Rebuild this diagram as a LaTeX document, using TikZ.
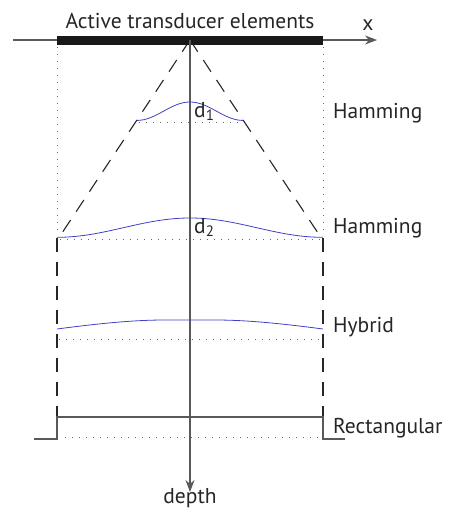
\documentclass[tikz,border=0pt]{standalone}
\usepackage{fontspec}
\setmainfont{PT Sans}
\usetikzlibrary{arrows.meta}
\begin{document}
\begin{tikzpicture}[x=1pt, y=-1pt,
    axisline/.style={black!65, line width=1.1pt},
    beamedge/.style={black!85, line width=1.1pt, dash pattern=on 14pt off 10pt},
    guide/.style={black!60, line width=1pt, dash pattern=on 1pt off 6pt},
    apod/.style={blue!70!black!75, line width=0.8pt},
    lbl/.style={font=\fontsize{21.5}{24}\selectfont, inner sep=0pt, text=black!85}]
    \useasboundingbox (0,0) rectangle (448,512);
    \def\xL{57}
    \def\xR{323}
    \def\xC{190}
    \def\xT{333}

    % Key points
    \coordinate (O) at (\xC,40);
    \coordinate (xstart) at (13,40);
    \coordinate (xend) at (377,40);
    \coordinate (zend) at (\xC,492);
    \coordinate (focL) at (60,236);
    \coordinate (focR) at (320,236);

    % Guides from the aperture ends
    \draw[guide] (\xL,47) -- (\xL,233);
    \draw[guide] (\xR,47) -- (\xR,233);

    % Beam edges
    \draw[beamedge] (O) -- (focL);
    \draw[beamedge] (O) -- (focR);
    \draw[beamedge] (\xL,238) -- (\xL,416);
    \draw[beamedge] (\xR,238) -- (\xR,416);

    % Element bar and x axis
    \draw[axisline, -{Stealth[length=12pt,width=9pt]}] (xstart) -- (xend);
    \fill[black!90] (\xL,35.5) rectangle (\xR,44.5);
    \node[lbl, anchor=base] (title) at (\xC,28) {Active transducer elements};
    \node[lbl, anchor=base] (xlab) at (368,30) {x};

    % Depth axis
    \draw[axisline, -{Stealth[length=12pt,width=9pt]}] (O) -- (zend);
    \node[lbl, anchor=base] (depth) at (\xC,503) {depth};

    % Hamming at d1
    \draw[guide] (139,122) -- (243,122);
    \draw[apod] plot[domain=0:1, samples=50] ({137+106*\x}, {122-20*(0.54-0.46*cos(360*\x))});
    \node[lbl, anchor=base west] (dA) at (194,117) {d\textsubscript{1}};
    \node[lbl, anchor=base west] (hamA) at (\xT,118) {Hamming};

    % Hamming at d2
    \draw[guide] (60,239) -- (320,239);
    \draw[apod] plot[domain=0:1, samples=60] ({\xL+266*\x}, {239-21*(0.54-0.46*cos(360*\x))});
    \node[lbl, anchor=base west] (dB) at (194,233) {d\textsubscript{2}};
    \node[lbl, anchor=base west] (hamB) at (\xT,233) {Hamming};

    % Hybrid
    \draw[guide] (59,339) -- (319,339);
    \draw[apod] (\xL,329) .. controls (110,322) and (140,320) .. (165,320)
        -- (215,320) .. controls (240,320) and (270,322) .. (\xR,329);
    \node[lbl, anchor=base west] (hyb) at (\xT,332) {Hybrid};

    % Rectangular
    \draw[guide] (65,437) -- (320,437);
    \draw[axisline] (34,439) -- (\xL,439) -- (\xL,417) -- (\xR,417) -- (\xR,439) -- (345,439);
    \node[lbl, anchor=base west] (rect) at (\xT,433) {Rectangular};
\end{tikzpicture}
\end{document}
